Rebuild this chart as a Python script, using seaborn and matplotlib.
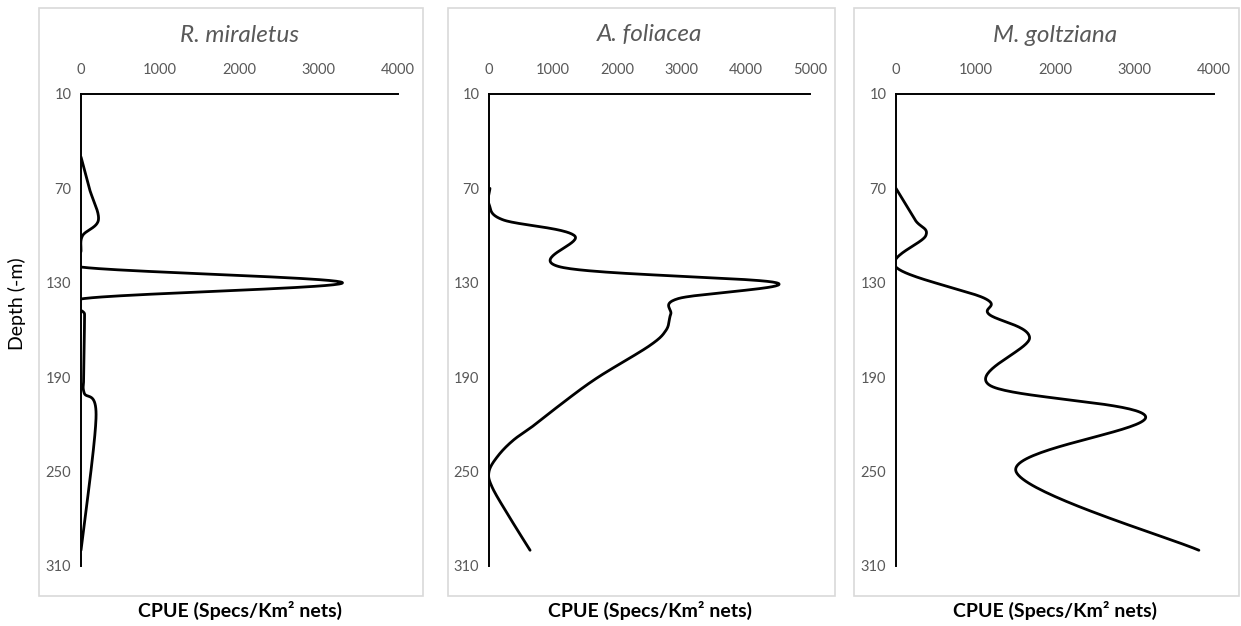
import numpy as np
import pandas as pd
import matplotlib
matplotlib.use("Agg")
import matplotlib.pyplot as plt
from matplotlib.patches import Rectangle
import seaborn as sns

# ---------------- data ----------------
species = ["R. miraletus", "A. foliacea", "M. goltziana"]

depth_miraletus = [50, 70, 90, 100, 110, 120, 130, 140, 150, 170, 190, 200, 215, 300]
cpue_miraletus = [0, 105, 220, 20, 0, 0, 3300, 40, 45, 40, 35, 40, 190, 0]

depth_foliacea = [70, 80, 90, 100, 120, 130, 140, 150, 160, 170, 190, 205, 220,
                  230, 240, 250, 260, 280, 300]
cpue_foliacea = [15, 0, 220, 1330, 1120, 4480, 2950, 2830, 2760, 2500, 1700,
                 1190, 720, 380, 140, 0, 50, 335, 640]

depth_goltziana = [70, 90, 100, 120, 140, 150, 165, 195, 215, 250, 300]
cpue_goltziana = [0, 240, 375, 0, 1120, 1170, 1680, 1175, 3140, 1510, 3810]

x_max = [4000, 5000, 4000]
x_ticks = [[0, 1000, 2000, 3000, 4000],
           [0, 1000, 2000, 3000, 4000, 5000],
           [0, 1000, 2000, 3000, 4000]]
y_ticks = [10, 70, 130, 190, 250, 310]
x_label = "CPUE (Specs/Km\u00b2 nets)"
y_label = "Depth (-m)"

series = [(cpue_miraletus, depth_miraletus),
          (cpue_foliacea, depth_foliacea),
          (cpue_goltziana, depth_goltziana)]

# ---------------- layout (pixels of a 1241x626 canvas) ----------------
W, H = 1241, 626
axes_px = [(81, 398), (489, 810), (896, 1214)]
y_top, y_bot = 94, 566
boxes_px = [(39, 423), (448, 835), (854, 1239)]
box_top, box_bot = 8, 596


def excel_smooth(xv, yv, sx, sy, n=40):
    """Excel-like smoothed line: Bezier through points, computed in screen space."""
    P = np.column_stack([np.asarray(xv, float) * sx, np.asarray(yv, float) * sy])
    Pe = np.vstack([P[0], P, P[-1]])
    out = []
    m = len(P) - 1
    for i in range(m):
        p0, p1, p2, p3 = Pe[i], Pe[i + 1], Pe[i + 2], Pe[i + 3]
        c1 = p1 + (p2 - p0) / 6.0
        c2 = p2 - (p3 - p1) / 6.0
        t = np.linspace(0, 1, n, endpoint=(i == m - 1))[:, None]
        B = ((1 - t) ** 3) * p1 + 3 * ((1 - t) ** 2) * t * c1 + 3 * (1 - t) * t ** 2 * c2 + t ** 3 * p2
        out.append(B)
    B = np.vstack(out)
    return B[:, 0] / sx, B[:, 1] / sy


sns.set_theme(style="white")
plt.rcParams["font.family"] = ["Lato", "DejaVu Sans"]

fig = plt.figure(figsize=(W / 100, H / 100), dpi=100)

tick_color = "#595959"

for i, (name, (cv, dv)) in enumerate(zip(species, series)):
    x0, x1 = axes_px[i]
    ax = fig.add_axes([x0 / W, 1 - y_bot / H, (x1 - x0) / W, (y_bot - y_top) / H])

    sx = (x1 - x0) / x_max[i]
    sy = (y_bot - y_top) / 300.0
    xs, ys = excel_smooth(cv, dv, sx, sy)
    df = pd.DataFrame({"cpue": xs, "depth": ys})
    sns.lineplot(data=df, x="cpue", y="depth", ax=ax, sort=False, estimator=None,
                 color="black", linewidth=2.0)

    ax.set_xlim(0, x_max[i])
    ax.set_ylim(310, 10)
    ax.xaxis.tick_top()
    ax.set_xticks(x_ticks[i])
    ax.set_yticks(y_ticks)
    ax.tick_params(axis="x", length=0, pad=12, labelsize=10.5, labelcolor=tick_color)
    ax.tick_params(axis="y", length=0, pad=7, labelsize=10.5, labelcolor=tick_color)
    ax.set_xlabel("")
    ax.set_ylabel("")
    for s in ["right", "bottom"]:
        ax.spines[s].set_visible(False)
    for s in ["top", "left"]:
        ax.spines[s].set_visible(True)
        ax.spines[s].set_color("black")
        ax.spines[s].set_linewidth(1.4)
    ax.grid(False)
    ax.patch.set_alpha(0)

    ax.text(0.5, 1 + (y_top - 35) / (y_bot - y_top), name, transform=ax.transAxes,
            ha="center", va="center", fontsize=17.5, style="italic", color=tick_color)
    ax.text(0.5, -(610 - y_bot) / (y_bot - y_top), x_label, transform=ax.transAxes,
            ha="center", va="center", fontsize=14, fontweight="bold", color="black")

    bx0, bx1 = boxes_px[i]
    fig.patches.append(Rectangle((bx0 / W, 1 - box_bot / H), (bx1 - bx0) / W,
                                 (box_bot - box_top) / H, transform=fig.transFigure,
                                 fill=False, edgecolor="#D9D9D9", linewidth=1.2))

fig.text(17 / W, 1 - 304 / H, y_label, rotation=90, ha="center", va="center",
         fontsize=14, color="black")

fig.savefig("out.png", dpi=100, facecolor="white")
